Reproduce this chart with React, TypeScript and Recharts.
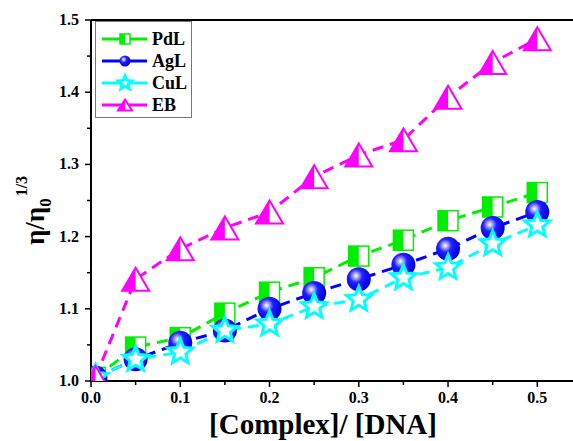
import React from "react"
import { LineChart, Line, XAxis, YAxis, ReferenceLine, Legend } from "recharts"

const ratio = [0.005, 0.05, 0.1, 0.15, 0.2, 0.25, 0.3, 0.35, 0.4, 0.45, 0.5]
const pdl = [1.005, 1.047, 1.06, 1.094, 1.123, 1.143, 1.173, 1.195, 1.222, 1.241, 1.261]
const agl = [1.005, 1.03, 1.053, 1.07, 1.1, 1.122, 1.141, 1.161, 1.183, 1.212, 1.234]
const cul = [1.005, 1.03, 1.04, 1.07, 1.079, 1.103, 1.113, 1.143, 1.157, 1.19, 1.216]
const eb = [1.005, 1.141, 1.183, 1.212, 1.234, 1.283, 1.313, 1.334, 1.393, 1.441, 1.474]

const xTicks = [0, 0.05, 0.1, 0.15, 0.2, 0.25, 0.3, 0.35, 0.4, 0.45, 0.5]
const xLabels = ["0.0", "", "0.1", "", "0.2", "", "0.3", "", "0.4", "", "0.5"]
const yTicks = [1.0, 1.05, 1.1, 1.15, 1.2, 1.25, 1.3, 1.35, 1.4, 1.45, 1.5]
const yLabels = ["1.0", "", "1.1", "", "1.2", "", "1.3", "", "1.4", "", "1.5"]

const data = ratio.map((x, i) => ({ x, pdl: pdl[i], agl: agl[i], cul: cul[i], eb: eb[i] }))

const FONT = "'Liberation Serif', 'Times New Roman', serif"
const GREEN = "#00ee00"
const BLUE = "#0000ff"
const CYAN = "#00ffff"
const MAGENTA = "#ff00ff"

function Square({ cx, cy, s = 20 }: any) {
  const h = s / 2
  return (
    <g>
      <rect x={cx - h} y={cy - h} width={s} height={s} fill="#fff" stroke={GREEN} strokeWidth={1.5} />
      <rect x={cx - h} y={cy - h} width={h} height={s} fill={GREEN} />
    </g>
  )
}

function Sphere({ cx, cy, r = 12, id }: any) {
  return (
    <g>
      <defs>
        <radialGradient id={id} cx="0.38" cy="0.36" r="0.62">
          <stop offset="0" stopColor="#ffffff" />
          <stop offset="0.12" stopColor="#c8c8ff" />
          <stop offset="0.45" stopColor="#2020ff" />
          <stop offset="1" stopColor="#0000e0" />
        </radialGradient>
      </defs>
      <circle cx={cx} cy={cy} r={r} fill={`url(#${id})`} />
    </g>
  )
}

function Star({ cx, cy, r = 13 }: any) {
  const pts: string[] = []
  for (let k = 0; k < 10; k++) {
    const rr = k % 2 === 0 ? r : r * 0.45
    const a = -Math.PI / 2 + (k * Math.PI) / 5
    pts.push(`${cx + rr * Math.cos(a)},${cy + rr * Math.sin(a)}`)
  }
  return <polygon points={pts.join(" ")} fill="#fff" stroke={CYAN} strokeWidth={3} strokeLinejoin="miter" />
}

function Triangle({ cx, cy, w = 27, h = 23 }: any) {
  const top = cy - h / 2
  const bot = cy + h / 2
  return (
    <g>
      <polygon points={`${cx},${top} ${cx + w / 2},${bot} ${cx - w / 2},${bot}`} fill="#fff" stroke={MAGENTA} strokeWidth={2} />
      <polygon points={`${cx},${top} ${cx},${bot} ${cx - w / 2},${bot}`} fill={MAGENTA} />
    </g>
  )
}

const XTick = ({ x, y, index }: any) => {
  const label = xLabels[index]
  return (
    <g>
      <line x1={x} y1={y} x2={x} y2={y + (label ? 6 : 4)} stroke="#000" strokeWidth={1.5} />
      {label && (
        <text x={x} y={y + 22} textAnchor="middle" fontFamily={FONT} fontWeight="bold" fontSize={16} fill="#000">
          {label}
        </text>
      )}
    </g>
  )
}

const YTick = ({ x, y, index }: any) => {
  const label = yLabels[index]
  return (
    <g>
      <line x1={x} y1={y} x2={x - (label ? 6 : 4)} y2={y} stroke="#000" strokeWidth={1.5} />
      {label && (
        <text x={x - 12} y={y + 5} textAnchor="end" fontFamily={FONT} fontWeight="bold" fontSize={16} fill="#000">
          {label}
        </text>
      )}
    </g>
  )
}

const YTitle = () => (
  <text transform="translate(44,245) rotate(-90)" textAnchor="start" fontFamily={FONT} fontWeight="bold" fontSize={27} fill="#000">
    <tspan>η/η</tspan>
    <tspan dy={7} fontSize={17}>0</tspan>
    <tspan dy={-24} dx={2} fontSize={16}>1/3</tspan>
  </text>
)

const XTitle = () => (
  <text x={323} y={434} textAnchor="middle" fontFamily={FONT} fontWeight="bold" fontSize={29} fill="#000">
    [Complex]/ [DNA]
  </text>
)

const legendRows = [
  { name: "PdL", color: GREEN, kind: "square" },
  { name: "AgL", color: BLUE, kind: "sphere" },
  { name: "CuL", color: CYAN, kind: "star" },
  { name: "EB", color: MAGENTA, kind: "triangle" },
]

const LegendBox = () => (
  <div style={{ border: "1px solid #777", width: 97, height: 97, boxSizing: "border-box", padding: "6px 0 0 5px", background: "#fff" }}>
    {legendRows.map((r) => (
      <div key={r.name} style={{ display: "flex", alignItems: "center", height: 22 }}>
        <svg width={48} height={22}>
          <line x1={1} y1={11} x2={46} y2={11} stroke={r.color} strokeWidth={3} />
          {r.kind === "square" && <Square cx={24} cy={11} s={10} />}
          {r.kind === "sphere" && <Sphere cx={24} cy={11} r={5.5} id="leg-sph" />}
          {r.kind === "star" && <Star cx={24} cy={11} r={7} />}
          {r.kind === "triangle" && <Triangle cx={24} cy={11} w={14} h={11} />}
        </svg>
        <span style={{ fontFamily: FONT, fontWeight: "bold", fontSize: 18, marginLeft: 3, color: "#000" }}>{r.name}</span>
      </div>
    ))}
  </div>
)

export default function App() {
  return (
    <div style={{ position: "absolute", left: 0, top: 0, width: 573, height: 441, background: "#fff" }}>
      <LineChart width={573} height={441} data={data} margin={{ top: 20, right: 0, bottom: 0, left: 0 }}>
        <XAxis
          type="number"
          dataKey="x"
          domain={[0, 0.54]}
          ticks={xTicks}
          allowDataOverflow
          interval={0}
          tickLine={false}
          tickSize={0}
          tickMargin={0}
          tick={<XTick />}
          axisLine={{ stroke: "#000", strokeWidth: 2 }}
          height={60}
          label={{ content: XTitle }}
        />
        <YAxis
          type="number"
          domain={[1.0, 1.5]}
          ticks={yTicks}
          allowDataOverflow
          interval={0}
          tickLine={false}
          tickSize={0}
          tickMargin={0}
          tick={<YTick />}
          axisLine={{ stroke: "#000", strokeWidth: 2 }}
          width={91}
          label={{ content: YTitle }}
        />
        <ReferenceLine y={1.5} stroke="#000" strokeWidth={2} />
        <Legend
          layout="horizontal"
          verticalAlign="middle"
          align="center"
          content={LegendBox}
          wrapperStyle={{ position: "absolute", left: 95, top: 21, width: "auto" }}
        />
        <Line
          dataKey="pdl"
          stroke={GREEN}
          strokeWidth={3}
          strokeDasharray="11 7"
          isAnimationActive={false}
          dot={(p: any) => <Square key={`s${p.index}`} cx={p.cx} cy={p.cy} />}
        />
        <Line
          dataKey="agl"
          stroke={BLUE}
          strokeWidth={3}
          strokeDasharray="11 7"
          isAnimationActive={false}
          dot={(p: any) => <Sphere key={`c${p.index}`} cx={p.cx} cy={p.cy} id={`sph${p.index}`} />}
        />
        <Line
          dataKey="cul"
          stroke={CYAN}
          strokeWidth={3}
          strokeDasharray="11 7"
          isAnimationActive={false}
          dot={(p: any) => <Star key={`t${p.index}`} cx={p.cx} cy={p.cy} />}
        />
        <Line
          dataKey="eb"
          stroke={MAGENTA}
          strokeWidth={3}
          strokeDasharray="11 7"
          isAnimationActive={false}
          dot={(p: any) => <Triangle key={`e${p.index}`} cx={p.cx} cy={p.cy} />}
        />
      </LineChart>
    </div>
  )
}
